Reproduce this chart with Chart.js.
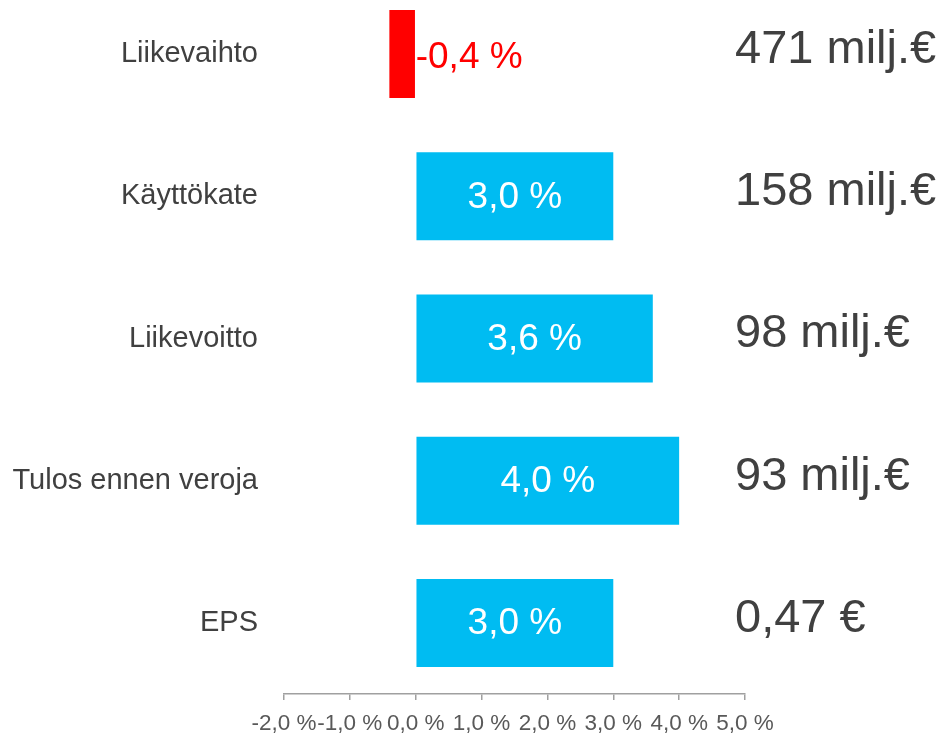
<!DOCTYPE html>
<html>
<head>
<meta charset="utf-8">
<script src="https://cdn.jsdelivr.net/npm/chart.js@4/dist/chart.umd.min.js"></script>
<style>
  html, body { margin: 0; padding: 0; background: #ffffff; overflow: hidden; }
  #wrap { position: absolute; left: 0; top: -17px; width: 944px; height: 754px; }
</style>
</head>
<body>
<div id="wrap"><canvas id="c" width="944" height="754"></canvas></div>
<script>
const categories = ["Liikevaihto", "Käyttökate", "Liikevoitto", "Tulos ennen veroja", "EPS"];
const changePct = [-0.4, 3.0, 3.6, 4.0, 3.0];
const absoluteLabels = ["471 milj.€", "158 milj.€", "98 milj.€", "93 milj.€", "0,47 €"];
const xTicks = [-2, -1, 0, 1, 2, 3, 4, 5];

const FONT = "'Liberation Sans', Arial, sans-serif";
const fmt = v => v.toFixed(1).replace('.', ',') + ' %';

const labelsPlugin = {
  id: 'labelsPlugin',
  afterDatasetsDraw(chart) {
    const ctx = chart.ctx;
    const meta = chart.getDatasetMeta(0);
    const xs = chart.scales.x;
    const ys = chart.scales.y;
    ctx.save();
    meta.data.forEach((bar, i) => {
      const v = changePct[i];
      const y = bar.y;
      ctx.font = "37px " + FONT;
      ctx.textBaseline = 'middle';
      if (v >= 0) {
        ctx.fillStyle = '#ffffff';
        ctx.textAlign = 'center';
        ctx.fillText(fmt(v), (bar.x + bar.base) / 2, y + 1);
      } else {
        ctx.fillStyle = '#FF0000';
        ctx.textAlign = 'left';
        ctx.fillText(fmt(v), xs.getPixelForValue(0), y + 4);
      }
    });
    ctx.fillStyle = '#404040';
    ctx.font = "47px " + FONT;
    ctx.textAlign = 'left';
    ctx.textBaseline = 'middle';
    absoluteLabels.forEach((t, i) => {
      ctx.fillText(t, 735, ys.getPixelForValue(i) - 4);
    });
    ctx.restore();
  }
};

new Chart(document.getElementById('c'), {
  type: 'bar',
  data: {
    labels: categories,
    datasets: [{
      data: changePct,
      backgroundColor: changePct.map(v => v < 0 ? '#FF0000' : '#00BCF2'),
      borderWidth: 0,
      barPercentage: 0.619,
      categoryPercentage: 1.0
    }]
  },
  options: {
    indexAxis: 'y',
    responsive: false,
    animation: false,
    devicePixelRatio: 1,
    layout: { padding: { left: 0, right: 199, top: 0, bottom: 0 } },
    plugins: { legend: { display: false }, tooltip: { enabled: false } },
    scales: {
      x: {
        type: 'linear',
        min: -2, max: 5,
        afterBuildTicks: s => { s.ticks = xTicks.map(v => ({ value: v })); },
        afterFit: s => { s.height = 43; s.paddingLeft = 0; s.paddingRight = 0; },
        grid: { drawOnChartArea: false, drawTicks: true, tickLength: 6, color: '#A0A0A0', lineWidth: 1.5 },
        border: { display: true, color: '#A0A0A0', width: 1.5 },
        ticks: {
          autoSkip: false, maxRotation: 0, padding: 10,
          color: '#595959',
          font: { family: FONT, size: 22.5 },
          callback: v => fmt(v)
        }
      },
      y: {
        afterFit: s => { s.width = 284; s.paddingTop = 0; s.paddingBottom = 0; },
        grid: { display: false, drawTicks: false },
        border: { display: false },
        ticks: {
          padding: 26,
          color: '#404040',
          font: { family: FONT, size: 29 }
        }
      }
    }
  },
  plugins: [labelsPlugin]
});
</script>
</body>
</html>
